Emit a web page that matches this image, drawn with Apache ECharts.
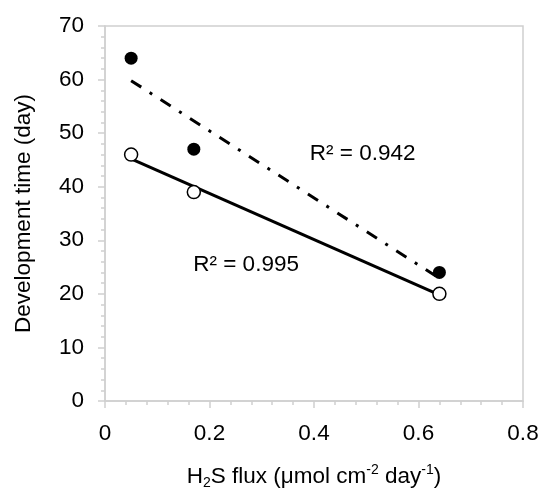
<!DOCTYPE html>
<html><head><meta charset="utf-8">
<script src="https://cdn.jsdelivr.net/npm/echarts@6/dist/echarts.min.js"></script>
<style>html,body{margin:0;padding:0;background:#fff}#c{width:542px;height:488px}</style>
</head><body><div id="c"></div>
<script>
// Data
const fluxX = [0.05, 0.17, 0.64];
const filledY = [64, 47, 24];   // filled circles
const openY = [46, 39, 20];     // open circles
const trendX = [0.05, 0.64];
const filledTrendY = [59.8, 22.9];
const openTrendY = [45.2, 19.8];
const annotations = [
  {x: 0.493, y: 46.2, text: 'R² = 0.942'},
  {x: 0.270, y: 25.4, text: 'R² = 0.995'}
];
const xTicks = [0, 0.2, 0.4, 0.6, 0.8];
const yTicks = [0, 10, 20, 30, 40, 50, 60, 70];

const FONT = 'Liberation Sans, Arial, sans-serif';
const FS = 22.5;
const axisGray = '#d0d0d0';
const chart = echarts.init(document.getElementById('c'));
const pair = (xs, ys) => xs.map((x, i) => [x, ys[i]]);

chart.setOption({
  animation: false,
  backgroundColor: '#fff',
  grid: {left: 105, right: 19, top: 26, bottom: 87, containLabel: false, outerBoundsMode: 'none',
    show: true, borderColor: axisGray, borderWidth: 1.5},
  xAxis: {
    type: 'value', min: xTicks[0], max: xTicks[xTicks.length - 1], interval: 0.2,
    axisLine: {show: true, lineStyle: {color: axisGray, width: 1.5}},
    axisTick: {show: true, length: 7, lineStyle: {color: axisGray, width: 1.5}},
    minorTick: {show: true, splitNumber: 5, length: 4, lineStyle: {color: axisGray, width: 1.5}},
    splitLine: {show: false},
    axisLabel: {color: '#000', fontSize: FS, fontFamily: FONT, margin: 21,
      formatter: v => String(Math.round(v * 10) / 10)},
    name: '{n|H}{s|2}{n|S flux (μmol cm}{p|-2}{n| day}{p|-1}{n|)}',
    nameLocation: 'middle', nameGap: 62,
    nameTextStyle: {
      rich: {
        n: {fontSize: FS, fontFamily: FONT, color: '#000'},
        s: {fontSize: 14, fontFamily: FONT, color: '#000', verticalAlign: 'bottom', padding: [13, 0, 0, 0]},
        p: {fontSize: 14, fontFamily: FONT, color: '#000', verticalAlign: 'top', padding: [0, 0, 11, 0]}
      }
    }
  },
  yAxis: {
    type: 'value', min: yTicks[0], max: yTicks[yTicks.length - 1], interval: 10,
    axisLine: {show: true, lineStyle: {color: axisGray, width: 1.5}},
    axisTick: {show: true, length: 7, lineStyle: {color: axisGray, width: 1.5}},
    minorTick: {show: true, splitNumber: 5, length: 4, lineStyle: {color: axisGray, width: 1.5}},
    splitLine: {show: false},
    axisLabel: {color: '#000', fontSize: FS, fontFamily: FONT, margin: 21},
    name: 'Development time (day)', nameLocation: 'middle', nameGap: 70,
    nameTextStyle: {fontSize: FS, fontFamily: FONT, color: '#000'}
  },
  series: [
    {type: 'line', data: pair(trendX, filledTrendY), symbol: 'none',
      lineStyle: {color: '#000', width: 3, type: [12, 10, 3, 10]}, z: 2},
    {type: 'line', data: pair(trendX, openTrendY), symbol: 'none',
      lineStyle: {color: '#000', width: 3, type: 'solid'}, z: 2},
    {type: 'scatter', data: pair(fluxX, filledY), symbol: 'circle', symbolSize: 13,
      itemStyle: {color: '#000', opacity: 1}, z: 3},
    {type: 'scatter', data: pair(fluxX, openY), symbol: 'circle', symbolSize: 13,
      itemStyle: {color: '#fff', borderColor: '#000', borderWidth: 1.5, opacity: 1}, z: 3},
    {type: 'scatter', data: annotations.map(a => ({value: [a.x, a.y], name: a.text})),
      symbolSize: 0, silent: true, itemStyle: {opacity: 1},
      label: {show: true, position: 'inside', formatter: p => p.name, opacity: 1,
        fontSize: FS, fontFamily: FONT, color: '#000'}, z: 4}
  ]
});
</script></body></html>
